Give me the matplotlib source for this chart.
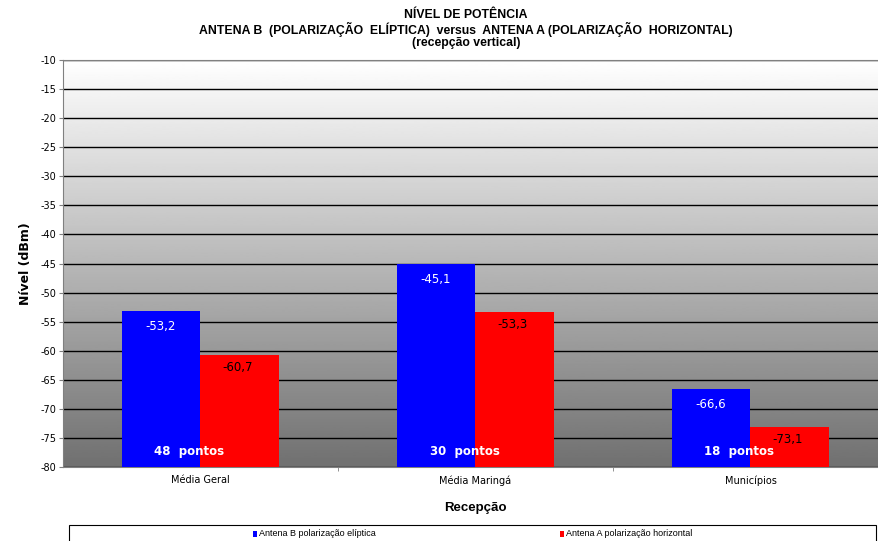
import numpy as np
import matplotlib.pyplot as plt
from matplotlib.patches import Rectangle

plt.rcParams['font.family'] = ['Liberation Sans', 'DejaVu Sans']

categories = ['Média Geral', 'Média Maringá', 'Municípios']
antena_b = [-53.2, -45.1, -66.6]
antena_a = [-60.7, -53.3, -73.1]
pontos = ['48  pontos', '30  pontos', '18  pontos']
label_b = 'Antena B polarização elíptica'
label_a = 'Antena A polarização horizontal'
y_min, y_max = -80, -10

fig = plt.figure(figsize=(8.79, 5.41), dpi=100)
# plot area runs a bit past the right edge of the picture, as in the original
ax = fig.add_axes([63 / 879, 1 - 467 / 541, 825 / 879, 407 / 541])

# gradient background, white on top, grey at the bottom
grad = np.linspace(0.44, 1.0, 256).reshape(-1, 1)
ax.imshow(grad, cmap='gray', vmin=0, vmax=1, aspect='auto', origin='lower',
          extent=(-0.5, 2.5, y_min, y_max), zorder=0)

x = np.arange(len(categories))
w = 0.287
ax.bar(x - w / 2, np.array(antena_b) - y_min, w, bottom=y_min, color='#0000ff', zorder=3, label=label_b)
ax.bar(x + w / 2, np.array(antena_a) - y_min, w, bottom=y_min, color='#ff0000', zorder=3, label=label_a)

def fmt(v):
    return ('%.1f' % v).replace('.', ',')

for xi, vb, va, pt in zip(x, antena_b, antena_a, pontos):
    ax.annotate(fmt(vb), (xi - w / 2, vb), xytext=(0, -11), textcoords='offset points',
                ha='center', va='center', color='white', fontsize=8.5, family='DejaVu Sans', zorder=5)
    ax.annotate(fmt(va), (xi + w / 2, va), xytext=(-2, -9), textcoords='offset points',
                ha='center', va='center', color='black', fontsize=8.5, family='DejaVu Sans', zorder=5)
    ax.text(xi - 0.04, y_min + 2.7, pt, ha='center', va='center', color='white',
            fontsize=8.5, fontweight='bold', family='DejaVu Sans', zorder=5)

ax.set_xlim(-0.5, 2.5)
ax.set_ylim(y_min, y_max)
ax.set_yticks(np.arange(y_min, y_max + 1, 5))
ax.set_yticklabels([str(t) for t in range(y_min, y_max + 1, 5)], fontsize=7, family='DejaVu Sans')
ax.set_xticks(x)
ax.set_xticklabels(categories, fontsize=7, family='DejaVu Sans')
ax.set_xticks([0.5, 1.5], minor=True)
ax.tick_params(axis='x', which='major', length=0, pad=6)
ax.tick_params(axis='x', which='minor', length=3, color='#808080')
ax.tick_params(axis='y', length=3, color='#808080', pad=2)
ax.grid(axis='y', color='black', linewidth=1, zorder=1)
for s in ax.spines.values():
    s.set_color('#808080')
ax.spines['right'].set_visible(False)

ax.set_ylabel('Nível (dBm)', fontsize=9, fontweight='bold', family='DejaVu Sans', labelpad=6)
ax.set_xlabel('Recepção', fontsize=9.5, fontweight='bold', labelpad=12)

title_kw = dict(ha='center', va='center', fontsize=8.8, fontweight='bold')
tx = 466 / 879
fig.text(tx, 1 - 15 / 541, 'NÍVEL DE POTÊNCIA', **title_kw)
fig.text(tx, 1 - 29 / 541, 'ANTENA B  (POLARIZAÇÃO  ELÍPTICA)  versus  ANTENA A (POLARIZAÇÃO  HORIZONTAL)', **title_kw)
fig.text(tx, 1 - 43 / 541, '(recepção vertical)', **title_kw)

# legend box
fig.patches.append(Rectangle((69 / 879, -0.02), 807 / 879, 1 - 525 / 541 + 0.02, transform=fig.transFigure,
                             facecolor='white', edgecolor='black', linewidth=0.8))
for xt, lab, col in [(253 / 879, label_b, '#0000ff'), (560 / 879, label_a, '#ff0000')]:
    fig.patches.append(Rectangle((xt, 1 - 537 / 541), 4 / 879, 6 / 541, transform=fig.transFigure,
                                 facecolor=col, edgecolor='none'))
    fig.text(xt + 6 / 879, 1 - 534 / 541, lab, ha='left', va='center', fontsize=6.5)

fig.savefig('out.png', dpi=100)
